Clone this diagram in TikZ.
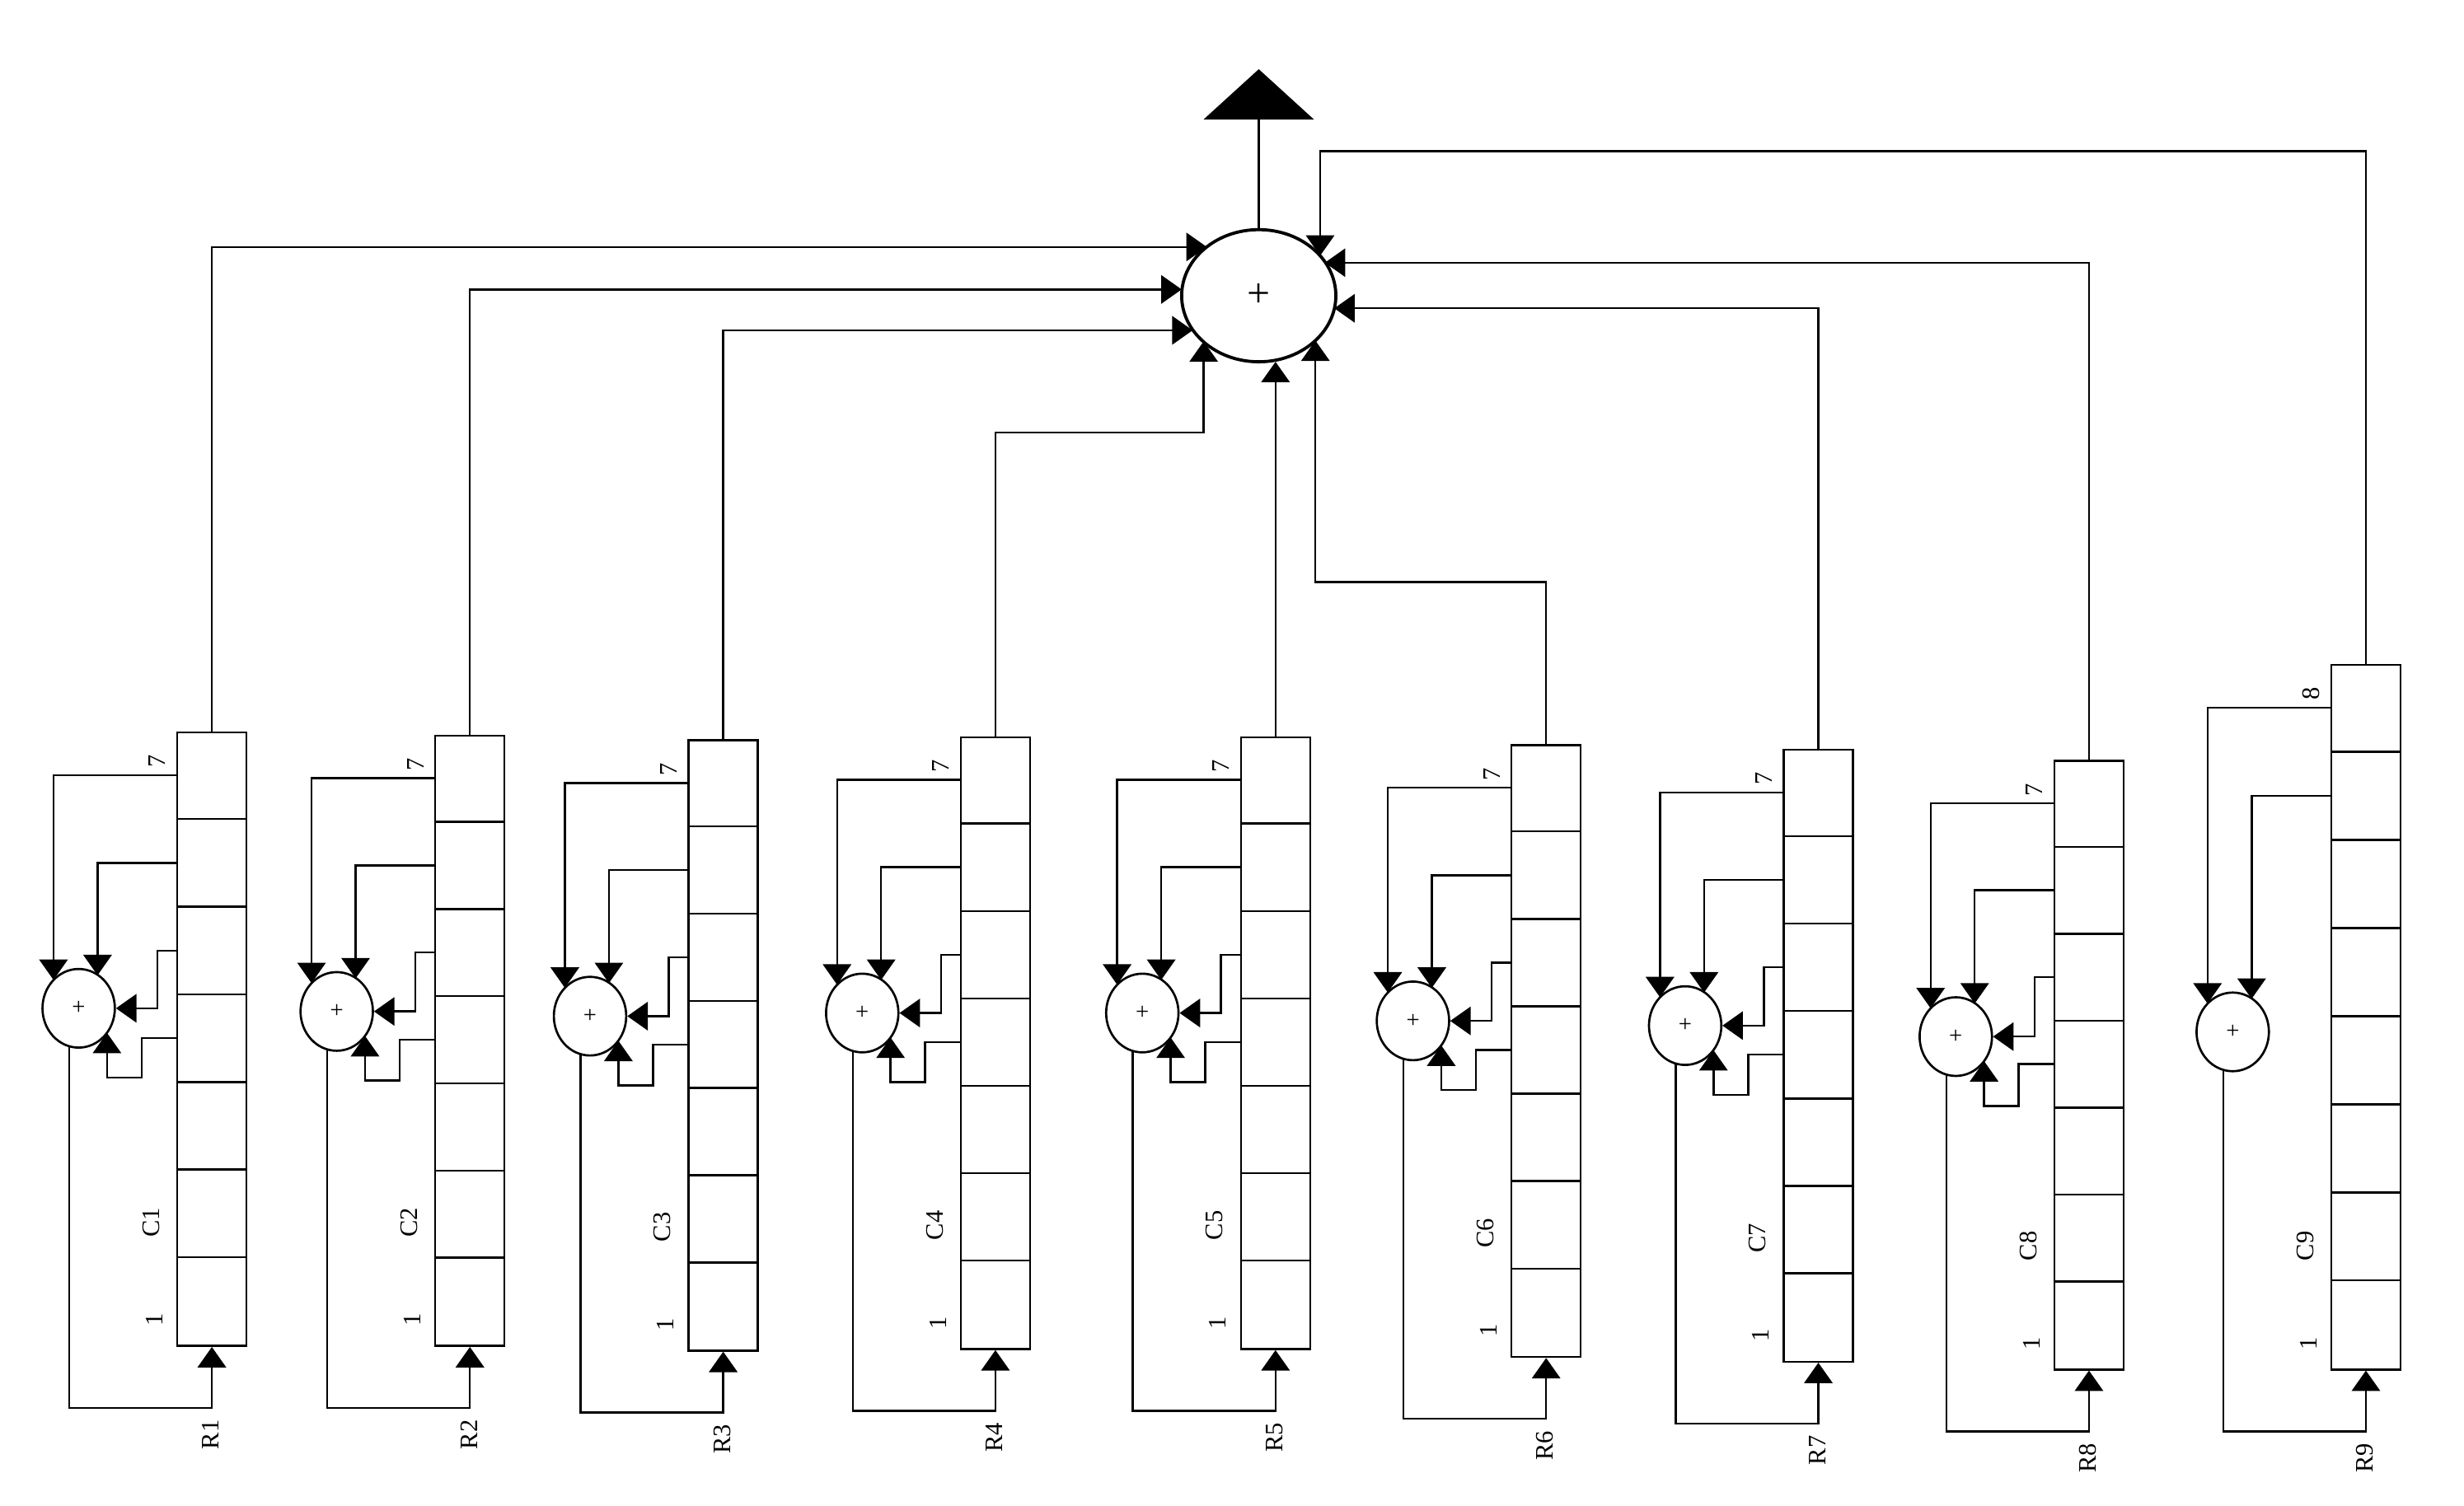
\documentclass[tikz,border=0pt]{standalone}
\usepackage{fontspec}
\setmainfont{Liberation Serif}
\usetikzlibrary{arrows.meta,calc,shapes.geometric}
\begin{document}
\begin{tikzpicture}[x=1pt,y=-1pt,
  ln/.style={line width=1.3pt},
  ar/.style={ln,-{Triangle[width=18pt,length=13pt]}},
  adder/.style={draw,ellipse,line width=1.4pt,minimum width=46pt,minimum height=50pt,inner sep=0pt},
  lab/.style={font=\fontsize{16}{18}\selectfont,rotate=90,inner sep=0pt}]
\useasboundingbox (0,0) rectangle (1566,957);
% main adder
\node[draw,ellipse,line width=2pt,minimum width=98pt,minimum height=84pt,inner sep=0pt,font=\fontsize{26}{28}\selectfont] (S) at (800,188) {+};
\coordinate (top) at (800,44);
\draw[ln,-{Triangle[width=70pt,length=32pt]}] (S.north) -- (top);
\foreach \i/\l/\t/\b/\n/\ady/\tl in {1/112/465/855/7/176/7,2/276/467/855/7/176/7,3/437/470/858/7/176/7,4/610/468/857/7/176/7,5/788/468/857/7/176/7,6/960/473/862/7/176/7,7/1133/476/865/7/176/7,8/1305/483/870/7/176/7,9/1481/422/870/8/234/8}{
  \pgfmathsetmacro{\h}{(\b-\t)/\n}
  \pgfmathsetmacro{\ax}{\l-62}
  \pgfmathsetmacro{\ay}{\t+\ady}
  \pgfmathsetmacro{\cx}{\l+22}
  \node[draw,line width=1.3pt,minimum width=44pt,minimum height={\b-\t},inner sep=0pt,anchor=north west] (B\i) at (\l,\t) {};
  \foreach \k in {1,...,\n}{ \ifnum\k<\n \draw[ln] (\l,{\t+\k*\h}) -- (\l+44,{\t+\k*\h}); \fi }
  \node[adder,font=\fontsize{15}{15}\selectfont] (a\i) at (\ax,\ay) {+};
  \node[lab] (n7\i) at (\l-12,\t+19) {\tl};
  \node[lab] (n1\i) at (\l-14,\b-16) {1};
  \node[lab] (c\i) at (\l-16,\b-78) {C\i};
  \node[lab] (r\i) at (\cx,\b+57) {R\i};
  \draw[ar] (\l,{\t+0.5*\h}) -| ($(a\i)+(-16,-18)$);
  \draw[ar] (\l,{\t+1.5*\h}) -| ($(a\i)+(12,-21)$);
  \ifnum\i<9
    \draw[ar] (\l,{\t+2.5*\h}) -- (\l-12,{\t+2.5*\h}) |- (a\i.east);
    \draw[ar] (\l,{\t+3.5*\h}) -- (\l-22,{\t+3.5*\h}) -- (\l-22,\ay+44) -| ($(a\i)+(18,15.6)$);
  \fi
  \coordinate (o\i) at (\ax-6,\b+40);
  \draw[ar] ($(a\i)+(-6,24)$) -- (o\i) -| (B\i.south);
}
\draw[ar] (B1.north) |- (767,157);
\draw[ar] (B2.north) |- (751,184);
\draw[ar] (B3.north) |- (758,210);
\draw[ar] (B4.north) |- (765,275) -- (765,217);
\draw[ar] (B5.north) -- (B5.north |- 0,230);
\draw[ar] (B6.north) |- (836,370) -- (836,216.5);
\draw[ar] (B7.north) |- (848,196);
\draw[ar] (B8.north) |- (842,167);
\draw[ar] (B9.north) |- (839,96) -- (839,162.6);
\end{tikzpicture}
\end{document}
